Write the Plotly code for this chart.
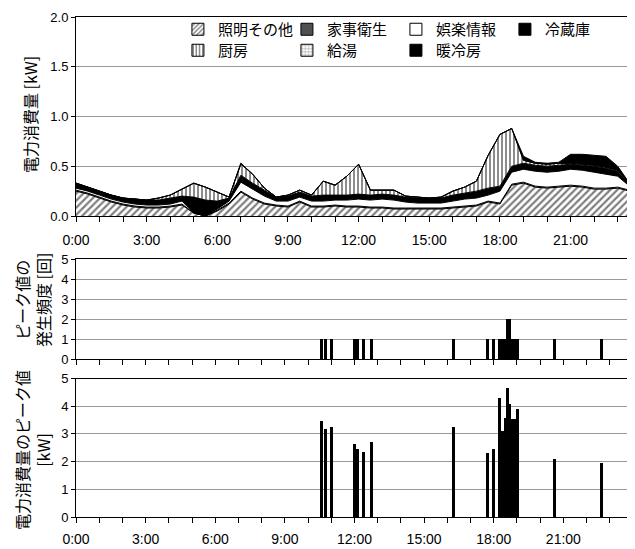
import plotly.graph_objects as go

# ---------------- data ----------------
time_labels = ["0:00","0:30","1:00","1:30","2:00","2:30","3:00","3:30","4:00","4:30",
               "5:00","5:30","6:00","6:30","7:00","7:30","8:00","8:30","9:00","9:30",
               "10:00","10:30","11:00","11:30","12:00","12:30","13:00","13:30","14:00","14:30",
               "15:00","15:30","16:00","16:30","17:00","17:30","18:00","18:30","19:00","19:30",
               "20:00","20:30","21:00","21:30","22:00","22:30","23:00","23:30"]

lighting = [0.25,0.22,0.18,0.14,0.11,0.09,0.08,0.08,0.09,0.11,
            0.03,0.00,0.05,0.12,0.24,0.17,0.12,0.10,0.09,0.14,
            0.09,0.09,0.10,0.09,0.09,0.08,0.08,0.07,0.07,0.07,
            0.07,0.07,0.08,0.09,0.10,0.14,0.12,0.31,0.33,0.29,
            0.28,0.29,0.30,0.29,0.27,0.27,0.28,0.25]
housework = [0.01,0.01,0.01,0.01,0.01,0.01,0.01,0.01,0.01,0.01,
             0.00,0.00,0.01,0.01,0.01,0.01,0.01,0.01,0.01,0.01,
             0.01,0.01,0.01,0.01,0.01,0.01,0.01,0.01,0.01,0.01,
             0.01,0.01,0.01,0.01,0.01,0.01,0.01,0.01,0.01,0.01,
             0.01,0.01,0.01,0.01,0.01,0.01,0.01,0.01]
entertainment = [0.02,0.02,0.02,0.02,0.02,0.02,0.02,0.02,0.02,0.03,
                 0.00,0.00,0.01,0.02,0.09,0.09,0.07,0.04,0.05,0.04,
                 0.05,0.05,0.05,0.06,0.07,0.07,0.08,0.08,0.06,0.05,
                 0.05,0.05,0.06,0.07,0.07,0.06,0.12,0.12,0.13,0.15,
                 0.15,0.15,0.16,0.16,0.16,0.14,0.11,0.04]
fridge = [0.05,0.04,0.04,0.04,0.04,0.05,0.05,0.05,0.06,0.05,
          0.16,0.16,0.08,0.03,0.07,0.06,0.06,0.04,0.05,0.05,
          0.05,0.06,0.05,0.05,0.05,0.05,0.05,0.05,0.05,0.05,
          0.05,0.05,0.06,0.06,0.07,0.07,0.05,0.06,0.06,0.06,
          0.06,0.06,0.05,0.05,0.06,0.06,0.05,0.03]
kitchen = [0.00,0.00,0.00,0.00,0.00,0.00,0.00,0.02,0.03,0.07,
           0.14,0.13,0.09,0.01,0.11,0.09,0.02,0.00,0.01,0.02,
           0.01,0.14,0.10,0.19,0.30,0.05,0.04,0.05,0.01,0.01,
           0.00,0.01,0.04,0.06,0.10,0.33,0.52,0.38,0.03,0.02,
           0.02,0.02,0.01,0.01,0.01,0.01,0.01,0.00]
hotwater = [0.00,0.00,0.00,0.00,0.00,0.00,0.00,0.00,0.00,0.00,
            0.00,0.00,0.00,0.00,0.01,0.00,0.00,0.00,0.00,0.00,
            0.00,0.00,0.00,0.00,0.00,0.00,0.00,0.00,0.00,0.00,
            0.00,0.00,0.00,0.00,0.00,0.00,0.00,0.00,0.00,0.00,
            0.00,0.00,0.00,0.00,0.00,0.00,0.00,0.00]
hvac = [0.00,0.00,0.00,0.00,0.00,0.00,0.00,0.00,0.00,0.00,
        0.00,0.00,0.00,0.00,0.00,0.00,0.00,0.00,0.00,0.00,
        0.00,0.00,0.00,0.00,0.00,0.00,0.00,0.00,0.00,0.00,
        0.00,0.00,0.00,0.00,0.00,0.00,0.00,0.00,0.04,0.01,
        0.01,0.01,0.09,0.10,0.10,0.11,0.04,0.00]

peak_times = ["10:34","10:46","11:01","12:01","12:08","12:24","12:43","16:16","17:44","17:59",
              "18:15","18:22","18:29","18:35","18:41","18:47","18:54","19:01","20:38","22:38"]
peak_freq = [1,1,1,1,1,1,1,1,1,1,1,1,1,2,2,1,1,1,1,1]
peak_kw = [3.49,3.19,3.25,2.67,2.47,2.38,2.71,3.25,2.32,2.47,
           4.31,3.13,3.61,4.67,4.09,3.55,3.55,3.91,2.10,1.98]

tick_hours = list(range(24))
tick_labels = ["0:00","","","3:00","","","6:00","","","9:00","","","12:00","","",
               "15:00","","","18:00","","","21:00","",""]

def to_h(s):
    h, m = s.split(":")
    return int(h) + int(m) / 60.0

hours = [to_h(t) for t in time_labels]
peak_h = [to_h(t) for t in peak_times]

JP = "Noto Sans CJK JP"
NUM = "Liberation Sans, Arial, sans-serif"

series = [
    ("照明その他", lighting, dict(shape="/", size=5, solidity=0.45, fgcolor="black", bgcolor="white"), "white", "legend"),
    ("家事衛生", housework, dict(shape=".", size=2, solidity=0.5, fgcolor="black", bgcolor="#666666"), "#666666", "legend"),
    ("娯楽情報", entertainment, None, "white", "legend"),
    ("冷蔵庫", fridge, None, "black", "legend"),
    ("厨房", kitchen, dict(shape="|", size=4, solidity=0.45, fgcolor="black", bgcolor="white"), "white", "legend2"),
    ("給湯", hotwater, dict(shape="+", size=5, solidity=0.25, fgcolor="black", bgcolor="white"), "white", "legend2"),
    ("暖冷房", hvac, None, "black", "legend2"),
]

fig = go.Figure()
for name, vals, pat, col, lg in series:
    kw = dict(x=hours, y=vals, name=name, stackgroup="one", mode="lines",
              line=dict(color="black", width=1), fillcolor=col, showlegend=False,
              xaxis="x", yaxis="y", hoverinfo="skip")
    if pat:
        kw["fillpattern"] = pat
    fig.add_trace(go.Scatter(**kw))

# legend entries
for name, vals, pat, col, lg in series:
    marker = dict(color=col, line=dict(color="black", width=1))
    if pat:
        p = dict(pat)
        if p["shape"] != ".":
            p["size"] = 4
        marker["pattern"] = p
    fig.add_trace(go.Bar(x=[None], y=[None], name=name, marker=marker,
                         legend=lg, xaxis="x", yaxis="y", showlegend=True))

fig.add_trace(go.Bar(x=peak_h, y=peak_freq, width=0.12, marker=dict(color="black", line=dict(width=0)),
                     xaxis="x2", yaxis="y2", showlegend=False))
fig.add_trace(go.Bar(x=peak_h, y=peak_kw, width=0.12, marker=dict(color="black", line=dict(width=0)),
                     xaxis="x3", yaxis="y3", showlegend=False))

axis_common = dict(showline=True, mirror=True, linecolor="black", linewidth=1,
                   ticks="outside", ticklen=5, tickcolor="black", automargin=False,
                   tickfont=dict(family=NUM, size=14, color="black"), zeroline=False)
yaxis_common = dict(showline=True, mirror=True, linecolor="black", linewidth=1,
                    ticks="outside", ticklen=4, tickcolor="black", automargin=False,
                    tickfont=dict(family=NUM, size=13, color="black"),
                    showgrid=True, gridcolor="#9a9a9a", gridwidth=1, zeroline=False)

legend_common = dict(orientation="h", xanchor="left", yanchor="top",
                     entrywidth=64, entrywidthmode="pixels", bgcolor="rgba(0,0,0,0)",
                     font=dict(family=JP, size=15, color="black"), traceorder="normal",
                     itemclick=False, itemdoubleclick=False, tracegroupgap=0)

# the page body adds an 8px offset, so the figure is 8px smaller on each side
fig.update_layout(
    width=627, height=541,
    margin=dict(l=68, r=2, t=9, b=32, autoexpand=False),
    paper_bgcolor="white", plot_bgcolor="white",
    barmode="overlay", bargap=0,
    xaxis=dict(domain=[0, 1], anchor="y", range=[0, 23.65], tickvals=tick_hours, ticktext=tick_labels,
               showgrid=False, ticklabelstandoff=6, **axis_common),
    yaxis=dict(domain=[0.602, 1.0], anchor="x", range=[0, 2.0], dtick=0.5, tickformat=".1f", **yaxis_common),
    xaxis2=dict(domain=[0, 1], anchor="y2", range=[0, 24], tickvals=tick_hours, showticklabels=False,
                showgrid=False, **axis_common),
    yaxis2=dict(domain=[0.316, 0.516], anchor="x2", range=[0, 5], dtick=1, **yaxis_common),
    xaxis3=dict(domain=[0, 1], anchor="y3", range=[0, 24], tickvals=tick_hours, ticktext=tick_labels,
                showgrid=False, ticklabelstandoff=4, **axis_common),
    yaxis3=dict(domain=[0, 0.277], anchor="x3", range=[0, 5], dtick=1, **yaxis_common),
    legend=dict(x=0.183, y=1.008, **legend_common),
    legend2=dict(x=0.183, y=0.966, **legend_common),
    showlegend=True,
)

title_font = dict(family=JP, size=16, color="black")
fig.add_annotation(text="電力消費量 [kW]", xref="paper", yref="paper", x=0, y=0.804,
                   xshift=-46, xanchor="center", yanchor="middle",
                   textangle=-90, showarrow=False, font=title_font)
fig.add_annotation(text="ピーク値の<br>発生頻度 [回]", xref="paper", yref="paper", x=0, y=0.434,
                   xshift=-44, xanchor="center", yanchor="middle",
                   textangle=-90, showarrow=False, font=title_font)
fig.add_annotation(text="電力消費量のピーク値<br>[kW]", xref="paper", yref="paper", x=0, y=0.134,
                   xshift=-44, xanchor="center", yanchor="middle",
                   textangle=-90, showarrow=False, font=title_font)

fig.write_html("out.html")
